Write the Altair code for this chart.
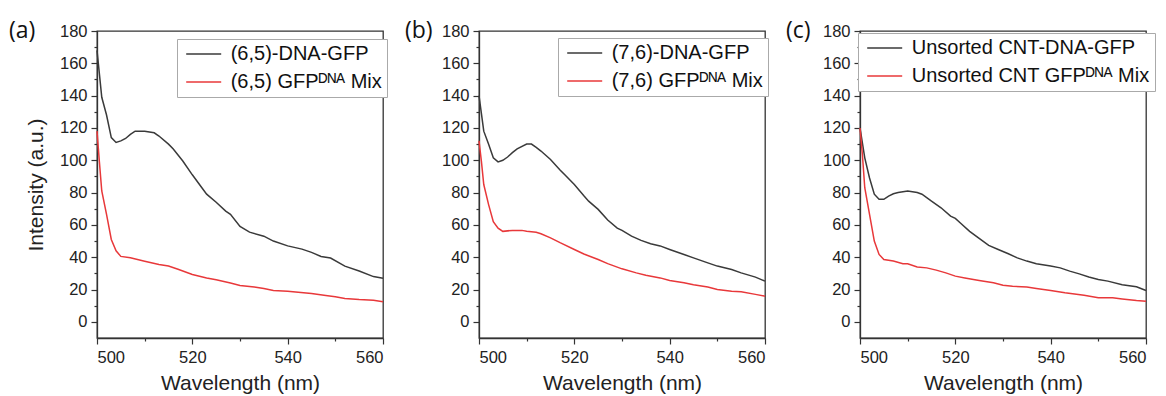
import altair as alt
import pandas as pd

# ---------------- data ----------------
# Panel (a)
a_k_wl = [500, 501, 502, 503, 504, 505, 506, 507, 508, 510, 512, 513, 515, 516, 518, 520, 522, 523, 525, 527, 528, 530, 532, 535, 537, 540, 543, 545, 547, 549, 552, 555, 558, 560]
a_k_int = [168, 139, 128, 114, 111, 112, 113.5, 116, 118, 118, 117, 115, 110, 107, 99.5, 91, 83, 79, 74, 68.5, 66.5, 59, 55.5, 53, 50, 47, 45, 43, 40.5, 39.5, 34.5, 31.5, 28, 27]
a_r_wl = [500, 500.5, 501, 502, 503, 504, 505, 507, 510, 513, 515, 517, 520, 523, 525, 528, 530, 533, 535, 537, 540, 545, 548, 550, 552, 555, 558, 560]
a_r_int = [118, 99, 81, 66.5, 51, 44, 40.5, 39.6, 37.5, 35.5, 34.5, 32.5, 29.3, 27.2, 26, 24, 22.5, 21.5, 20.6, 19.4, 19, 17.5, 16.3, 15.5, 14.5, 13.8, 13.4, 12.4]

# Panel (b)
b_k_wl = [500, 501, 502, 503, 504, 505, 506, 507, 508, 510, 511, 512, 513, 515, 517, 518, 520, 522, 523, 525, 527, 529, 530, 532, 534, 536, 538, 540, 543, 545, 548, 550, 553, 555, 558, 560]
b_k_int = [140, 118, 110, 101.5, 99, 100, 102, 104.7, 107, 110, 110, 108, 105.7, 100.5, 94, 91, 85, 78, 74.7, 69.6, 63, 58, 56.6, 53, 50.4, 48.3, 47, 44.8, 41.7, 39.6, 36.5, 34.5, 32.4, 30.3, 27.7, 25.2]
b_r_wl = [500, 500.5, 501, 502, 503, 504, 505, 507, 509, 510, 512, 513, 515, 517, 520, 522, 525, 527, 530, 533, 535, 538, 540, 543, 545, 548, 550, 553, 555, 558, 560]
b_r_int = [112, 99.5, 85, 72.7, 62, 58, 56, 56.6, 56.6, 56, 55.5, 54.5, 52, 49, 44.8, 42, 38.6, 36, 32.8, 30.3, 28.9, 27.2, 25.6, 24.2, 23, 21.5, 20, 19, 18.6, 17, 15.9]

# Panel (c)
c_k_wl = [500, 501, 502, 503, 504, 505, 506, 507, 508, 510, 511, 512, 513, 515, 517, 519, 520, 521, 523, 525, 527, 529, 531, 533, 535, 537, 540, 542, 544, 546, 548, 550, 552, 555, 558, 560]
c_k_int = [120, 101.5, 89, 79, 75.8, 75.8, 77.8, 79.3, 80, 81, 80.5, 80, 79, 74.7, 70.6, 65.4, 64, 61.3, 56, 51.6, 47.3, 44.8, 42.3, 39.6, 37.6, 36, 34.5, 33.4, 31.4, 29.7, 27.7, 26.2, 25.2, 23, 21.7, 19.4]
c_r_wl = [500, 500.5, 501, 502, 503, 504, 505, 507, 509, 510, 512, 514, 516, 518, 520, 522, 525, 528, 530, 532, 535, 537, 540, 543, 545, 547, 550, 553, 555, 558, 560]
c_r_int = [120, 103.6, 83, 66.5, 50, 41.7, 38.6, 37.6, 36, 36, 34, 33.4, 32, 30.3, 28.3, 27.2, 25.6, 24.2, 22.7, 22, 21.5, 20.6, 19.4, 18, 17.3, 16.5, 14.9, 14.9, 14.2, 13.2, 12.8]

a_names = ["(6,5)-DNA-GFP", "(6,5) GFP\u1d30\u1d3a\u1d2c Mix"]
b_names = ["(7,6)-DNA-GFP", "(7,6) GFP\u1d30\u1d3a\u1d2c Mix"]
c_names = ["Unsorted CNT-DNA-GFP", "Unsorted CNT GFP\u1d30\u1d3a\u1d2c Mix"]

x_ticks = [500, 510, 520, 530, 540, 550, 560]
y_ticks = [0, 10, 20, 30, 40, 50, 60, 70, 80, 90, 100, 110, 120, 130, 140, 150, 160, 170, 180]

BLACK = "#3a3a3a"
RED = "#e8383a"
FONT = "Liberation Sans"
W, H = 286, 307


def panel(kw, ki, rw, ri, names, letter, letter_x, leg_x, leg_y, ytitle):
    df = pd.concat([
        pd.DataFrame({"wl": kw, "val": ki, "series": names[0]}),
        pd.DataFrame({"wl": rw, "val": ri, "series": names[1]}),
    ])
    tick_size = {"condition": {"test": "datum.value % 20 === 0", "value": 6}, "value": 3}
    x = alt.X("wl:Q", scale=alt.Scale(domain=[500, 560], nice=False, zero=False),
              axis=alt.Axis(values=x_ticks, labelExpr="datum.value % 20 === 0 ? datum.label : ''",
                            tickSize=tick_size, title="Wavelength (nm)", grid=False,
                            labelPadding=5, titlePadding=7))
    yaxis_kw = dict(values=y_ticks, labelExpr="datum.value % 20 === 0 ? datum.label : ''",
                    tickSize=tick_size, grid=False, labelPadding=4, titlePadding=13)
    if ytitle:
        yaxis = alt.Axis(title=ytitle, **yaxis_kw)
    else:
        yaxis = alt.Axis(title=None, **yaxis_kw)
    y = alt.Y("val:Q", scale=alt.Scale(domain=[-10, 180], nice=False, zero=False), axis=yaxis)
    color = alt.Color("series:N", sort=names,
                      scale=alt.Scale(domain=names, range=[BLACK, RED]),
                      legend=alt.Legend(title=None, orient="none", legendX=leg_x, legendY=leg_y,
                                        symbolType="M-3,0H3", symbolSize=136, symbolStrokeWidth=1.5,
                                        symbolOffset=11.7,
                                        labelFontSize=20, labelFont=FONT, labelColor="#111",
                                        labelOffset=17, rowPadding=8, padding=5,
                                        strokeColor="#aaaaaa", fillColor="white",
                                        labelLimit=400))
    lines = alt.Chart(df).mark_line(strokeWidth=1.5).encode(x=x, y=y, color=color)
    lab = alt.Chart(pd.DataFrame({"t": [letter]})).mark_text(
        align="left", baseline="middle", fontSize=23, font="Open Sans", color="#111"
    ).encode(x=alt.value(letter_x), y=alt.value(0), text="t:N")
    return alt.layer(lines, lab).properties(width=W, height=H)


pa = panel(a_k_wl, a_k_int, a_r_wl, a_r_int, a_names, "(a)", -88, 80, 8, "Intensity (a.u.)")
pb = panel(b_k_wl, b_k_int, b_r_wl, b_r_int, b_names, "(b)", -74, 79, 7, None)
pc = panel(c_k_wl, c_k_int, c_r_wl, c_r_int, c_names, "(c)", -74, -2, 2, None)

chart = alt.hconcat(pa, pb, pc, spacing=15).resolve_scale(color="independent").resolve_legend(
    color="independent"
).properties(
    padding={"left": 0, "top": 11, "right": 0, "bottom": 0}
).configure_view(
    stroke="#333333", strokeWidth=1.3
).configure_axis(
    domainColor="#333333", domainWidth=1.3, tickColor="#333333", tickWidth=1.2,
    labelFont=FONT, labelFontSize=16.5, labelColor="#222222",
    titleFont=FONT, titleFontSize=21, titleColor="#222222", titleFontWeight="normal"
)

chart.save("out.html", embed_options={"renderer": "svg", "actions": False})
